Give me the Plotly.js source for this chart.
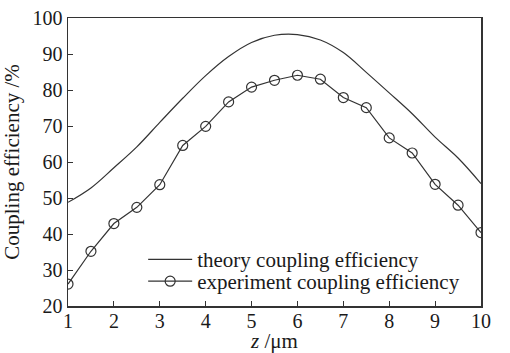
<!DOCTYPE html>
<html><head><meta charset="utf-8">
<script src="https://cdn.plot.ly/plotly-3.0.1.min.js"></script>
<style>body{margin:0;background:#fff}#c{width:510px;height:353px}</style>
</head><body><div id="c"></div>
<script>
const zValues = [1,1.5,2,2.5,3,3.5,4,4.5,5,5.5,6,6.5,7,7.5,8,8.5,9,9.5,10];
const theoryEff = [48.8,52.8,58.4,64.2,71.0,77.7,84.0,89.3,93.2,95.2,95.4,93.9,90.4,84.9,79.2,73.4,66.9,61.1,54.0];
const experimentEff = [26.1,35.2,42.9,47.4,53.7,64.6,69.9,76.7,80.8,82.7,84.1,83.0,77.9,75.1,66.7,62.5,53.8,48.0,40.4];
const seriesNames = ['theory coupling efficiency','experiment coupling efficiency'];
const xTicks = [1,2,3,4,5,6,7,8,9,10];
const yTicks = [20,30,40,50,60,70,80,90,100];

const fam = 'Liberation Serif, Times New Roman, serif';
const col = '#1a1a1a';
const traces = [
  {x:zValues, y:theoryEff, name:seriesNames[0], legend:'legend', mode:'lines', line:{color:'#333', width:1.2, shape:'spline'}},
  {x:zValues, y:experimentEff, name:seriesNames[1], legend:'legend2', mode:'lines+markers', line:{color:'#333', width:1.2},
   marker:{symbol:'circle-open', size:10, color:'#333', line:{width:1.2}}}
];
const axisCommon = {showgrid:false, zeroline:false, showline:true, mirror:true, linecolor:'#333', linewidth:1.5,
  ticks:'inside', ticklen:5, tickcolor:'#333', tickfont:{family:fam, size:20, color:col}};
const legendCommon = {xanchor:'left', yanchor:'middle', bgcolor:'rgba(0,0,0,0)', itemwidth:44,
  font:{family:fam, size:21, color:col}};
const layout = {
  width:510, height:353, margin:{l:68, r:29, t:18, b:47},
  paper_bgcolor:'#fff', plot_bgcolor:'#fff',
  font:{family:fam, color:col, size:20},
  xaxis:{...axisCommon, range:[1,10], tickvals:xTicks, ticktext:xTicks.map(String), ticklabelstandoff:-4,
    title:{text:'<i>z</i> /μm', font:{family:fam, size:21, color:col}}},
  yaxis:{...axisCommon, range:[20,100], tickvals:yTicks, ticktext:yTicks.map(String),
    title:{text:'Coupling efficiency /%', font:{family:fam, size:21, color:col}}},
  showlegend:true,
  legend:{...legendCommon, x:0.182, y:0.161},
  legend2:{...legendCommon, x:0.182, y:0.085}
};
Plotly.newPlot('c', traces, layout, {displayModeBar:false, staticPlot:true});
</script></body></html>
